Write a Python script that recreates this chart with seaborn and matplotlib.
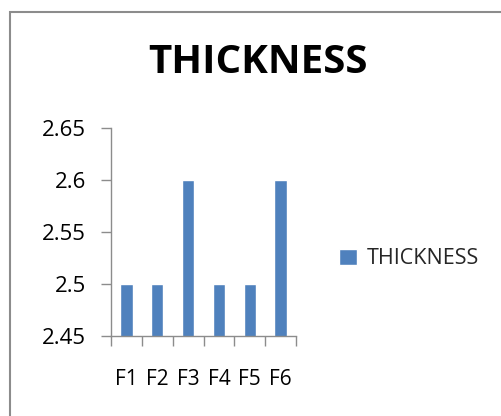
import matplotlib
matplotlib.use("Agg")
import matplotlib.pyplot as plt
from matplotlib.patches import Rectangle
import seaborn as sns
import pandas as pd

categories = ["F1", "F2", "F3", "F4", "F5", "F6"]
thickness = [2.5, 2.5, 2.6, 2.5, 2.5, 2.6]
series_name = "THICKNESS"
y_ticks = [2.45, 2.5, 2.55, 2.6, 2.65]
y_tick_labels = ["2.45", "2.5", "2.55", "2.6", "2.65"]

df = pd.DataFrame({"Formulation": categories, "Value": thickness, "Series": series_name})

sns.set_theme(style="white")
plt.rcParams["font.family"] = ["Open Sans", "DejaVu Sans"]

fig = plt.figure(figsize=(5.02, 4.16), dpi=100)
fig.patch.set_facecolor("white")

# chart frame
fig.patches.append(Rectangle((10 / 502, -0.1), 1.2, 1 - 12 / 416 + 0.1,
                             transform=fig.transFigure, fill=False,
                             edgecolor="#8c8c8c", linewidth=1.5))

ax = fig.add_axes([111 / 502, 80 / 416, 185 / 502, 208 / 416])
sns.barplot(data=df, x="Formulation", y="Value", hue="Series",
            palette=["#4F81BD"], width=0.4, ax=ax, saturation=1)

ax.set_ylim(2.45, 2.65)
ax.set_xlim(-0.5, 5.5)
ax.set_yticks(y_ticks)
ax.set_yticklabels(y_tick_labels)
ax.set_xlabel("")
ax.set_ylabel("")

# tick marks on category boundaries, labels at category centres
ax.set_xticks([i - 0.5 for i in range(len(categories) + 1)])
ax.set_xticklabels([""] * (len(categories) + 1))
ax.set_xticks(range(len(categories)), minor=True)
ax.set_xticklabels(categories, minor=True)
ax.tick_params(axis="x", which="major", direction="out", length=7,
               color="#8c8c8c", width=1, bottom=True)
ax.tick_params(axis="x", which="minor", length=0, pad=24, labelsize=15,
               labelcolor="#000000")
ax.tick_params(axis="y", direction="out", length=7, color="#8c8c8c",
               width=1, left=True, pad=11, labelsize=16, labelcolor="#000000")

for side in ["top", "right"]:
    ax.spines[side].set_visible(False)
for side in ["left", "bottom"]:
    ax.spines[side].set_color("#8c8c8c")
    ax.spines[side].set_linewidth(1)

fig.text(258.5 / 502, 1 - 62.5 / 416, "THICKNESS", ha="center", va="center",
         fontsize=29, fontweight="bold", color="#000000")

leg = ax.legend(loc="center left", bbox_to_anchor=(320 / 502, 1 - 259 / 416),
                bbox_transform=fig.transFigure, frameon=False, fontsize=15.5,
                handlelength=0.8, handleheight=0.8, handletextpad=0.45)

fig.savefig("out.png", dpi=100)
